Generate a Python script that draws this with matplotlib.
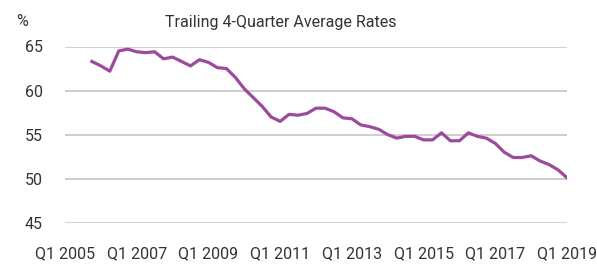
import matplotlib
matplotlib.use("Agg")
import matplotlib.pyplot as plt

plt.rcParams['font.family'] = ['Roboto', 'DejaVu Sans']

# Quarterly trailing 4-quarter average rates, Q4 2005 .. Q1 2019
start_q = 3  # quarters after Q1 2005
rates = [63.3, 62.8, 62.2, 64.5, 64.7, 64.4, 64.3, 64.4, 63.6, 63.8,
         63.3, 62.8, 63.5, 63.2, 62.6, 62.5, 61.5, 60.2, 59.2, 58.2,
         57.0, 56.5, 57.3, 57.2, 57.4, 58.0, 58.0, 57.6, 56.9, 56.8,
         56.1, 55.9, 55.6, 55.0, 54.6, 54.8, 54.8, 54.4, 54.4, 55.2,
         54.3, 54.3, 55.2, 54.8, 54.6, 54.0, 53.0, 52.4, 52.4, 52.6,
         52.0, 51.6, 51.0, 50.1]
tick_labels = ["Q1 2005", "Q1 2007", "Q1 2009", "Q1 2011",
               "Q1 2013", "Q1 2015", "Q1 2017", "Q1 2019"]
y_ticks = [45, 50, 55, 60, 65]

x = list(range(start_q, start_q + len(rates)))

fig = plt.figure(figsize=(5.97, 2.64), dpi=100)
ax = fig.add_axes([65 / 597, 1 - 222.7 / 264, (567 - 65) / 597, (222.7 - 46.5) / 264])

ax.plot(x, rates, color="#9c4a9e", lw=2.3, solid_joinstyle="round", zorder=3)

ax.set_xlim(0, 56)
ax.set_ylim(45, 65)
ax.set_yticks(y_ticks)
ax.set_xticks(range(0, 57, 8))
ax.set_xticklabels(tick_labels)
ax.grid(axis="y", color="#cccccc", lw=1.3)
ax.set_axisbelow(True)
for s in ax.spines.values():
    s.set_visible(False)
ax.tick_params(length=0, labelsize=11.5, labelcolor="#333333")
ax.tick_params(axis="x", pad=17)
ax.tick_params(axis="y", pad=16)

fig.text(22 / 597, 1 - 22 / 264, "%", fontsize=11.5, color="#333333",
         ha="center", va="center")
fig.text(281 / 597, 1 - 22 / 264, "Trailing 4-Quarter Average Rates",
         fontsize=11.5, color="#333333", ha="center", va="center")

fig.savefig("out.png", dpi=100)
